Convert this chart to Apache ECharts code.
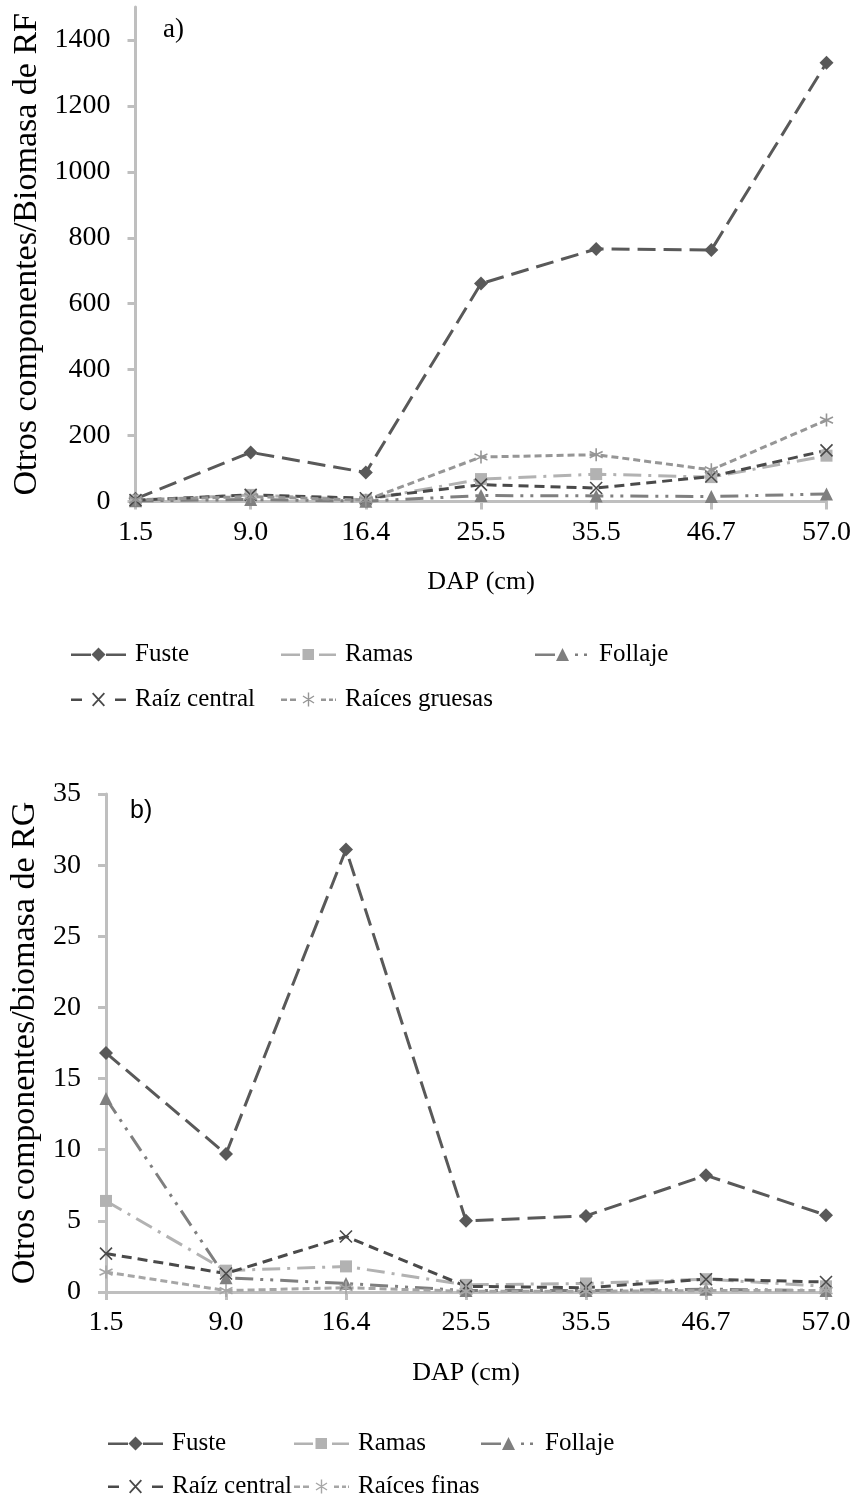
<!DOCTYPE html>
<html>
<head>
<meta charset="utf-8">
<script src="https://cdn.jsdelivr.net/npm/echarts@6/dist/echarts.min.js"></script>
<style>
  html, body { margin: 0; padding: 0; background: #fff; }
  #chart { width: 858px; height: 1501px; }
</style>
</head>
<body>
<div id="chart"></div>
<script>
// DAP classes (cm)
const categories = ['1.5', '9.0', '16.4', '25.5', '35.5', '46.7', '57.0'];

// a) other components / RF biomass
const rfFuste = [8, 149, 88, 661, 766, 763, 1331];
const rfRamas = [3, 20, 5, 68, 83, 74, 139];
const rfFollaje = [2, 6, 1, 18, 17, 15, 23];
const rfRaizCentral = [4, 20, 10, 51, 41, 76, 155];
const rfRaicesGruesas = [5, 15, 4, 135, 142, 96, 247];
const rfTicks = [0, 200, 400, 600, 800, 1000, 1200, 1400];

// b) other components / RG biomass
const rgFuste = [16.8, 9.7, 31.1, 5.0, 5.35, 8.2, 5.4];
const rgRamas = [6.4, 1.5, 1.8, 0.5, 0.6, 0.9, 0.4];
const rgFollaje = [13.6, 1.0, 0.6, 0.1, 0.1, 0.2, 0.1];
const rgRaizCentral = [2.7, 1.3, 3.9, 0.4, 0.3, 0.9, 0.7];
const rgRaicesFinas = [1.4, 0.1, 0.3, 0.05, 0.05, 0.1, 0.1];

const SERIF = '"Liberation Serif", "Times New Roman", serif';
const AXIS_GREY = '#bfbfbf';
const TICK_FONT = 28;
const TITLE_FONT = 26;
const YNAME_FONT = 34;
const LEGEND_FONT = 25;

const X_PATH = 'path://M0,0L10,10M10,0L0,10';
const STAR_PATH = 'path://M5,0L5,10M0.8,2.6L9.2,7.4M9.2,2.6L0.8,7.4';

// Legend keys: short line pieces around the marker, drawn in a 55 x 14 box
const ICON_STAR =
  'M26.8,0H28.2V14H26.8Z' +
  'M22.38,2.91L33.38,9.91L32.62,11.09L21.62,4.09Z' +
  'M21.62,9.91L32.62,2.91L33.38,4.09L22.38,11.09Z';
const legendIcons = {
  'Fuste': 'path://M0,6H20V8.5H0Z M27.5,0L34.5,7L27.5,14L20.5,7Z M35,6H55V8.5H35Z',
  'Ramas': 'path://M0,6H19V8.5H0Z M21.5,1.5H33V12.5H21.5Z M38,6H55V8.5H38Z M27,0H27.1V0.1H27Z M27,13.9H27.1V14H27Z',
  'Follaje': 'path://M0,6H20V8.5H0Z M27.5,0.5L34,13.5L21,13.5Z M40,6H43V8.5H40Z M49,6H52V8.5H49Z M54.9,7H55V7.1H54.9Z M27,0H27.1V0.1H27Z M27,13.9H27.1V14H27Z',
  'Raíz central': 'path://M0,6H11V8.5H0Z M21,1.2L22.3,0L34,12.8L32.7,14Z M32.7,0L34,1.2L22.3,14L21,12.8Z M44,6H55V8.5H44Z',
  'Raíces gruesas': 'path://M0,6H6V8.5H0Z M9,6H15V8.5H9Z ' + ICON_STAR + ' M40,6H45V8.5H40Z M48,6H52V8.5H48Z M54,6H55V8.5H54Z',
  'Raíces finas': 'path://M0,6H6V8.5H0Z M9,6H15V8.5H9Z ' + ICON_STAR + ' M40,6H45V8.5H40Z M48,6H52V8.5H48Z M54,6H55V8.5H54Z'
};

const styles = {
  'Fuste':          { color: '#595959', symbol: 'diamond',  size: 14, dash: [18, 8] },
  'Ramas':          { color: '#b2b2b2', symbol: 'rect',     size: 12, dash: [18, 7, 3, 7] },
  'Follaje':        { color: '#7f7f7f', symbol: 'triangle', size: 13, dash: [18, 7, 3, 7, 3, 7] },
  'Raíz central':   { color: '#4a4a4a', symbol: X_PATH,     size: 12, dash: [10, 6], stroke: true },
  'Raíces gruesas': { color: '#969696', symbol: STAR_PATH,  size: 13, dash: [7, 4], stroke: true },
  'Raíces finas':   { color: '#a6a6a6', symbol: STAR_PATH,  size: 13, dash: [7, 4], stroke: true }
};

function makeSeries(name, data, gridIndex) {
  const s = styles[name];
  return {
    name: name,
    type: 'line',
    xAxisIndex: gridIndex,
    yAxisIndex: gridIndex,
    data: data,
    symbol: s.symbol,
    symbolSize: s.size,
    showAllSymbol: true,
    animation: false,
    lineStyle: { color: s.color, width: 3, type: s.dash },
    itemStyle: s.stroke
      ? { color: s.color, borderColor: s.color, borderWidth: 1.6, borderType: 'solid' }
      : { color: s.color, borderWidth: 0 }
  };
}

function xAxisFor(gridIndex) {
  return {
    gridIndex: gridIndex,
    type: 'category',
    data: categories,
    boundaryGap: false,
    name: 'DAP (cm)',
    nameLocation: 'middle',
    nameGap: 68,
    nameTextStyle: { fontFamily: SERIF, fontSize: TITLE_FONT, color: '#000' },
    axisLine: { lineStyle: { color: AXIS_GREY, width: 3 } },
    axisTick: { show: true, alignWithLabel: true, length: 8, lineStyle: { color: AXIS_GREY, width: 3 } },
    axisLabel: { fontFamily: SERIF, fontSize: TICK_FONT, color: '#000', margin: 17, interval: 0 },
    splitLine: { show: false }
  };
}

function legendItem(name, left, top) {
  return {
    data: [{ name: name, icon: legendIcons[name] }],
    left: left,
    top: top,
    itemWidth: 55,
    itemHeight: 14,
    itemGap: 0,
    itemStyle: { borderWidth: 0 },
    textStyle: { fontFamily: SERIF, fontSize: LEGEND_FONT, color: '#000', padding: [0, 0, 0, 4] },
    selectedMode: false
  };
}

const plainNumber = function (v) { return String(v); };

const option = {
  backgroundColor: '#fff',
  animation: false,
  title: [
    { text: 'a)', left: 158, top: 11, textStyle: { fontFamily: SERIF, fontSize: 27, fontWeight: 'normal', color: '#000' } },
    { text: 'b)', left: 125, top: 794, textStyle: { fontFamily: '"Liberation Sans", Arial, sans-serif', fontSize: 25, fontWeight: 'normal', color: '#000' } }
  ],
  grid: [
    { left: 135.5, top: 7, width: 691, height: 494.5 },
    { left: 106, top: 794, width: 720, height: 498 }
  ],
  xAxis: [xAxisFor(0), xAxisFor(1)],
  yAxis: [
    {
      gridIndex: 0,
      type: 'value',
      min: 0,
      max: 1500,
      name: 'Otros componentes/Biomasa de RF',
      nameLocation: 'middle',
      nameGap: 88,
      nameTextStyle: { fontFamily: SERIF, fontSize: YNAME_FONT, color: '#000' },
      axisLine: { show: true, lineStyle: { color: AXIS_GREY, width: 3 } },
      axisTick: { show: true, length: 8, customValues: rfTicks, lineStyle: { color: AXIS_GREY, width: 3 } },
      axisLabel: { fontFamily: SERIF, fontSize: TICK_FONT, color: '#000', margin: 25, customValues: rfTicks, formatter: plainNumber },
      splitLine: { show: false }
    },
    {
      gridIndex: 1,
      type: 'value',
      min: 0,
      max: 35,
      interval: 5,
      name: 'Otros componentes/biomasa de RG',
      nameLocation: 'middle',
      nameGap: 60,
      nameTextStyle: { fontFamily: SERIF, fontSize: YNAME_FONT, color: '#000' },
      axisLine: { show: true, lineStyle: { color: AXIS_GREY, width: 3 } },
      axisTick: { show: true, length: 8, lineStyle: { color: AXIS_GREY, width: 3 } },
      axisLabel: { fontFamily: SERIF, fontSize: TICK_FONT, color: '#000', margin: 25, formatter: plainNumber },
      splitLine: { show: false }
    }
  ],
  legend: [
    legendItem('Fuste', 66, 637),
    legendItem('Ramas', 276, 637),
    legendItem('Follaje', 530, 637),
    legendItem('Raíz central', 66, 682),
    legendItem('Raíces gruesas', 276, 682),
    legendItem('Fuste', 103, 1426),
    legendItem('Ramas', 289, 1426),
    legendItem('Follaje', 476, 1426),
    legendItem('Raíz central', 103, 1469),
    legendItem('Raíces finas', 289, 1469)
  ],
  series: [
    makeSeries('Fuste', rfFuste, 0),
    makeSeries('Ramas', rfRamas, 0),
    makeSeries('Follaje', rfFollaje, 0),
    makeSeries('Raíz central', rfRaizCentral, 0),
    makeSeries('Raíces gruesas', rfRaicesGruesas, 0),
    makeSeries('Fuste', rgFuste, 1),
    makeSeries('Ramas', rgRamas, 1),
    makeSeries('Follaje', rgFollaje, 1),
    makeSeries('Raíz central', rgRaizCentral, 1),
    makeSeries('Raíces finas', rgRaicesFinas, 1)
  ]
};

const chart = echarts.init(document.getElementById('chart'), null, { renderer: 'canvas' });
chart.setOption(option);
</script>
</body>
</html>
